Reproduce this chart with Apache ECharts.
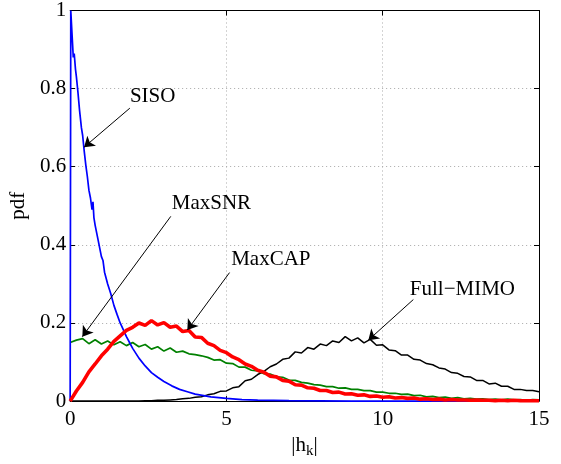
<!DOCTYPE html>
<html>
<head>
<meta charset="utf-8">
<script src="https://cdn.jsdelivr.net/npm/echarts@6/dist/echarts.min.js"></script>
<style>
  html, body { margin: 0; padding: 0; background: #fff; }
  #chart { width: 561px; height: 464px; }
</style>
</head>
<body>
<div id="chart"></div>
<script>
// x ticks / y ticks
var xTicks = [0, 5, 10, 15];
var yTicks = [0, 0.2, 0.4, 0.6, 0.8, 1];

// SISO
var sisoX = [0, 0.02, 0.06, 0.1, 0.13, 0.17, 0.2, 0.25, 0.3, 0.33,
  0.36, 0.4, 0.45, 0.5, 0.55, 0.6, 0.65, 0.7, 0.73, 0.76,
  0.8, 0.9, 1.0, 1.05, 1.1, 1.2, 1.3, 1.4, 1.5, 1.6,
  1.7, 1.8, 1.9, 2.0, 2.2, 2.4, 2.6, 2.8, 3.0, 3.25,
  3.5, 3.75, 4.0, 4.5, 5.0, 5.5, 6.0, 7.0, 8.0, 9.0,
  10, 11, 12, 13, 14, 15];
var sisoY = [0, 1.0, 0.94, 0.88, 0.89, 0.85, 0.83, 0.79, 0.745, 0.74,
  0.70, 0.68, 0.64, 0.605, 0.575, 0.54, 0.52, 0.49, 0.51, 0.47,
  0.45, 0.41, 0.37, 0.36, 0.33, 0.30, 0.275, 0.245, 0.222, 0.2,
  0.183, 0.165, 0.15, 0.135, 0.11, 0.09, 0.073, 0.061, 0.05, 0.039,
  0.03, 0.024, 0.018, 0.011, 0.007, 0.004, 0.0025, 0.001, 0.0005, 0,
  0, 0, 0, 0, 0, 0];

// shared sample points for the other three curves
var hk = [0, 0.2, 0.4, 0.6, 0.8, 1, 1.2, 1.4, 1.6, 1.8,
  2, 2.2, 2.4, 2.6, 2.8, 3, 3.2, 3.4, 3.6, 3.8,
  4, 4.2, 4.4, 4.6, 4.8, 5, 5.2, 5.4, 5.6, 5.8,
  6, 6.2, 6.4, 6.6, 6.8, 7, 7.2, 7.4, 7.6, 7.8,
  8, 8.2, 8.4, 8.6, 8.8, 9, 9.2, 9.4, 9.6, 9.8,
  10, 10.2, 10.4, 10.6, 10.8, 11, 11.2, 11.4, 11.6, 11.8,
  12, 12.2, 12.4, 12.6, 12.8, 13, 13.2, 13.4, 13.6, 13.8,
  14, 14.2, 14.4, 14.6, 14.8, 15];

var maxSnr = [0.150, 0.156, 0.160, 0.147, 0.157, 0.146, 0.154, 0.144, 0.152, 0.142,
  0.150, 0.139, 0.145, 0.133, 0.139, 0.128, 0.136, 0.125, 0.128, 0.121,
  0.119, 0.116, 0.112, 0.105, 0.106, 0.097, 0.096, 0.087, 0.087, 0.079,
  0.077, 0.070, 0.069, 0.062, 0.061, 0.054, 0.053, 0.048, 0.046, 0.042,
  0.041, 0.037, 0.037, 0.033, 0.034, 0.030, 0.030, 0.027, 0.027, 0.023,
  0.023, 0.020, 0.020, 0.017, 0.018, 0.014, 0.015, 0.011, 0.012, 0.009,
  0.010, 0.007, 0.009, 0.006, 0.007, 0.005, 0.006, 0.004, 0.005, 0.003,
  0.005, 0.003, 0.004, 0.002, 0.004, 0.003];

var maxCap = [0, 0.026, 0.048, 0.075, 0.095, 0.116, 0.133, 0.153, 0.167, 0.181,
  0.189, 0.200, 0.194, 0.206, 0.195, 0.201, 0.189, 0.192, 0.178, 0.181,
  0.164, 0.163, 0.148, 0.142, 0.130, 0.124, 0.113, 0.106, 0.095, 0.089,
  0.079, 0.074, 0.064, 0.062, 0.053, 0.051, 0.042, 0.041, 0.034, 0.033,
  0.027, 0.027, 0.022, 0.023, 0.018, 0.019, 0.015, 0.016, 0.012, 0.013,
  0.010, 0.011, 0.008, 0.009, 0.007, 0.008, 0.005, 0.006, 0.004, 0.005,
  0.003, 0.004, 0.003, 0.003, 0.002, 0.003, 0.002, 0.002, 0.001, 0.002,
  0.001, 0.002, 0.001, 0.001, 0.001, 0.001];

var fullMimo = [0, 0, 0, 0, 0, 0, 0, 0, 0, 0,
  0, 0.0005, 0.001, 0.001, 0.002, 0.002, 0.003, 0.004, 0.006, 0.007,
  0.010, 0.011, 0.016, 0.019, 0.025, 0.026, 0.034, 0.037, 0.052, 0.056,
  0.068, 0.076, 0.088, 0.095, 0.107, 0.110, 0.126, 0.123, 0.137, 0.133,
  0.146, 0.142, 0.154, 0.150, 0.165, 0.154, 0.162, 0.149, 0.158, 0.143,
  0.144, 0.131, 0.129, 0.118, 0.118, 0.107, 0.105, 0.096, 0.093, 0.085,
  0.082, 0.073, 0.071, 0.063, 0.062, 0.053, 0.053, 0.044, 0.046, 0.038,
  0.038, 0.030, 0.030, 0.027, 0.027, 0.024];

// label text, label anchor, arrow tail, arrow head (data coords)
var noteText = ['SISO', 'MaxSNR', 'MaxCAP', 'Full\u2212MIMO'];
var noteAt = [[2.64, 0.78], [4.52, 0.505], [6.42, 0.362], [12.55, 0.287]];
var noteFrom = [[1.91, 0.75], [3.22, 0.473], [5.1, 0.329], [10.98, 0.26]];
var noteTo = [[0.445, 0.65], [0.39, 0.165], [3.75, 0.182], [9.54, 0.156]];

function zip(xs, ys) {
  return xs.map(function (x, i) { return [x, ys[i]]; });
}

var FONT = 'Liberation Serif';

var chart = echarts.init(document.getElementById('chart'), null, { renderer: 'canvas' });

var names = ['SISO', 'MaxSNR', 'MaxCAP', 'Full-MIMO'];
var colors = ['#0000ff', '#008000', '#ff0000', '#000000'];
var widths = [1.7, 1.7, 3.6, 1.5];
var datas = [zip(sisoX, sisoY), zip(hk, maxSnr), zip(hk, maxCap), zip(hk, fullMimo)];
var order = [3, 1, 2, 0]; // drawing order

var series = order.map(function (k) {
  return {
    name: names[k],
    type: 'line',
    data: datas[k],
    showSymbol: false,
    symbol: 'none',
    animation: false,
    z: k === 2 ? 4 : 3,
    lineStyle: { color: colors[k], width: widths[k] },
    markLine: {
      silent: true,
      animation: false,
      symbol: ['none', 'arrow'],
      symbolSize: 10,
      lineStyle: { color: '#000', width: 1, type: 'solid' },
      label: { show: false },
      emphasis: { disabled: true },
      data: [[{ coord: noteFrom[k] }, { coord: noteTo[k] }]]
    },
    markPoint: {
      silent: true,
      animation: false,
      symbol: 'circle',
      symbolSize: 0,
      label: {
        show: true,
        position: 'inside',
        formatter: noteText[k],
        fontFamily: FONT,
        fontSize: 21,
        color: '#000'
      },
      data: [{ coord: noteAt[k] }]
    }
  };
});

var gridLine = { show: true, lineStyle: { color: '#a8a8a8', type: [1, 3], width: 1 } };

var option = {
  backgroundColor: '#fff',
  animation: false,
  grid: { left: 67, right: 22, top: 10, bottom: 54 },
  xAxis: [{
    type: 'value', min: xTicks[0], max: xTicks[xTicks.length - 1], interval: 5,
    name: '|h{s|k}|', nameLocation: 'middle', nameGap: 22,
    nameTextStyle: {
      fontFamily: FONT, fontSize: 21, color: '#000',
      rich: { s: { fontFamily: FONT, fontSize: 15, color: '#000', verticalAlign: 'bottom', padding: [12, 0, 0, 0] } }
    },
    axisLine: { show: true, lineStyle: { color: '#000', width: 1 } },
    axisTick: { show: true, inside: true, length: 5, lineStyle: { color: '#000' } },
    axisLabel: { fontFamily: FONT, fontSize: 21, color: '#000', margin: 8 },
    splitLine: gridLine
  }, {
    type: 'value', position: 'top', min: 0, max: 15, interval: 5,
    axisLine: { show: true, onZero: false, lineStyle: { color: '#000', width: 1 } },
    axisTick: { show: true, inside: true, length: 5, lineStyle: { color: '#000' } },
    axisLabel: { show: false },
    splitLine: { show: false }
  }],
  yAxis: [{
    type: 'value', min: yTicks[0], max: yTicks[yTicks.length - 1], interval: 0.2,
    name: 'pdf', nameLocation: 'middle', nameGap: 30,
    nameTextStyle: { fontFamily: FONT, fontSize: 21, color: '#000' },
    axisLine: { show: true, lineStyle: { color: '#000', width: 1 } },
    axisTick: { show: true, inside: true, length: 5, lineStyle: { color: '#000' } },
    axisLabel: { fontFamily: FONT, fontSize: 21, color: '#000', margin: 4 },
    splitLine: gridLine
  }, {
    type: 'value', position: 'right', min: 0, max: 1, interval: 0.2,
    axisLine: { show: true, onZero: false, lineStyle: { color: '#000', width: 1 } },
    axisTick: { show: true, inside: true, length: 5, lineStyle: { color: '#000' } },
    axisLabel: { show: false },
    splitLine: { show: false }
  }],
  series: series
};

chart.setOption(option);
</script>
</body>
</html>
